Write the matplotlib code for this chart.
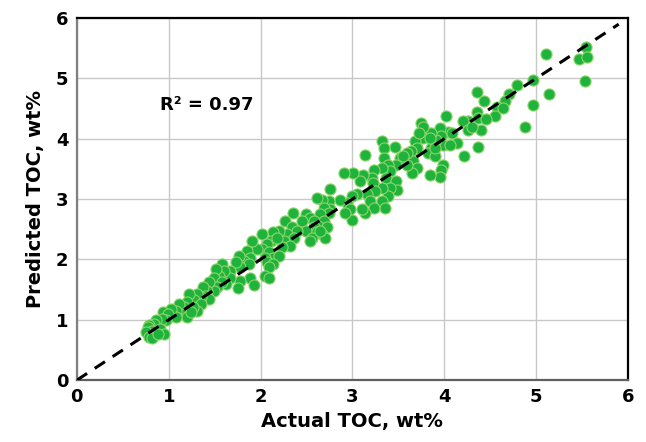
import numpy as np
import matplotlib.pyplot as plt

toc_real = [
    5.54, 5.11, 5.47, 5.55, 5.53, 5.14, 4.97, 4.97, 4.88, 4.79,
    4.71, 4.66, 4.57, 4.64, 4.55, 4.43, 4.36, 4.36, 4.37, 4.40,
    4.45, 4.37, 4.26, 4.20, 4.26, 4.30, 4.21, 4.14, 4.02, 4.04,
    3.95, 3.97, 3.99, 3.91, 3.86, 3.86, 3.82, 3.90, 3.99, 3.96,
    3.95, 3.84, 3.75, 3.77, 3.77, 3.68, 3.70, 3.64, 3.66, 3.70,
    3.65, 3.59, 3.52, 3.48, 3.46, 3.32, 3.34, 3.34, 3.39, 3.41,
    3.32, 3.37, 3.48, 3.49, 3.41, 3.39, 3.32, 3.35, 3.32, 3.24,
    3.21, 3.22, 3.25, 3.16, 3.19, 3.23, 3.14, 3.10, 3.12, 3.14,
    3.08, 3.05, 3.01, 3.00, 2.91, 2.94, 2.97, 3.00, 2.92, 2.87,
    2.76, 2.74, 2.76, 2.67, 2.61, 2.69, 2.74, 2.65, 2.49, 2.54,
    2.45, 2.58, 2.69, 2.63, 2.72, 2.58, 2.49, 2.61, 2.67, 2.56,
    2.70, 2.54, 2.65, 2.35, 2.27, 2.34, 2.40, 2.29, 2.36, 2.25,
    2.32, 2.23, 2.20, 2.14, 2.11, 2.18, 2.02, 2.07, 2.02, 1.96,
    2.09, 2.14, 2.05, 2.20, 2.07, 2.14, 2.09, 2.05, 2.09, 1.91,
    1.85, 1.89, 1.82, 1.87, 1.89, 1.93, 1.78, 1.76, 1.73, 1.78,
    1.75, 1.67, 1.67, 1.62, 1.58, 1.60, 1.55, 1.51, 1.49, 1.58,
    1.53, 1.49, 1.44, 1.42, 1.37, 1.40, 1.44, 1.35, 1.31, 1.28,
    1.35, 1.31, 1.26, 1.22, 1.20, 1.17, 1.15, 1.20, 1.24, 1.11,
    1.08, 1.04, 1.08, 1.02, 0.94, 0.99, 0.97, 0.93, 0.86, 0.84,
    0.79, 0.77, 0.82, 0.75, 0.78, 0.82, 0.90, 0.95, 0.88, 3.73,
    3.84, 3.90, 4.06, 4.08, 3.59, 3.55,
]
toc_previsto = [
    5.52, 5.40, 5.32, 5.35, 4.96, 4.74, 4.98, 4.56, 4.20, 4.89,
    4.75, 4.62, 4.53, 4.51, 4.37, 4.62, 4.77, 4.45, 4.34, 4.15,
    4.33, 3.86, 4.29, 4.30, 4.15, 4.20, 3.71, 3.93, 4.37, 4.12,
    4.18, 4.04, 3.90, 3.98, 4.09, 3.85, 3.76, 3.71, 3.57, 3.49,
    3.36, 3.40, 4.26, 4.20, 4.01, 3.96, 3.85, 3.79, 3.63, 3.52,
    3.43, 3.57, 3.68, 3.57, 3.87, 3.96, 3.85, 3.68, 3.57, 3.46,
    3.52, 3.35, 3.30, 3.15, 3.19, 3.05, 2.97, 2.86, 3.19, 3.49,
    3.35, 3.27, 3.13, 3.08, 2.97, 2.85, 2.77, 2.83, 3.40, 3.73,
    3.30, 3.08, 3.43, 3.05, 3.43, 2.94, 2.83, 2.66, 2.77, 2.99,
    3.16, 2.97, 2.83, 2.99, 3.02, 2.86, 2.77, 2.75, 2.76, 2.69,
    2.64, 2.64, 2.64, 2.55, 2.53, 2.53, 2.47, 2.45, 2.42, 2.36,
    2.36, 2.31, 2.47, 2.77, 2.64, 2.53, 2.47, 2.42, 2.36, 2.31,
    2.23, 2.20, 2.47, 2.45, 2.31, 2.36, 2.42, 2.25, 2.17, 2.17,
    2.12, 2.03, 2.03, 2.06, 1.95, 1.92, 1.87, 1.73, 1.70, 2.31,
    2.14, 2.03, 1.98, 1.92, 1.70, 1.57, 1.87, 2.06, 1.95, 1.65,
    1.53, 1.81, 1.70, 1.59, 1.92, 1.81, 1.73, 1.84, 1.70, 1.62,
    1.54, 1.48, 1.62, 1.48, 1.54, 1.40, 1.35, 1.37, 1.43, 1.32,
    1.26, 1.15, 1.21, 1.43, 1.29, 1.21, 1.10, 1.04, 1.13, 1.26,
    1.15, 1.07, 1.04, 1.18, 1.13, 1.10, 0.99, 1.02, 0.99, 0.93,
    0.91, 0.88, 0.82, 0.80, 0.71, 0.70, 0.85, 0.77, 0.77, 4.09,
    4.01, 3.85, 3.90, 4.09, 3.76, 3.71,
]
r2_texto = "R² = 0.97"
ticks = [0, 1, 2, 3, 4, 5, 6]

fig = plt.figure(figsize=(6.46, 4.42), dpi=100)
ax = fig.add_axes([0.119, 0.140, 0.853, 0.819])

ax.scatter(toc_real, toc_previsto, s=64, color='#1DB33C', edgecolors='#8FD46A',
           linewidths=0.8, zorder=3)
ax.plot([0, 5.9], [0, 5.9], color='black', linestyle=(0, (4, 3)), linewidth=2.2, zorder=4)

ax.set_xlim(0, 6)
ax.set_ylim(0, 6)
ax.set_xticks(ticks)
ax.set_yticks(ticks)
ax.grid(True, color='#C8C8C8', linewidth=1)
ax.set_axisbelow(True)
ax.tick_params(length=0, pad=6, labelsize=13)
for lbl in ax.get_xticklabels() + ax.get_yticklabels():
    lbl.set_fontweight('bold')

ax.spines['top'].set_color('black')
ax.spines['right'].set_color('black')
ax.spines['left'].set_color('#808080')
ax.spines['bottom'].set_color('#606060')
for s in ax.spines.values():
    s.set_linewidth(1.6)

ax.set_xlabel('Actual TOC, wt%', fontsize=14, fontweight='bold', labelpad=4)
ax.set_ylabel('Predicted TOC, wt%', fontsize=14, fontweight='bold', labelpad=8)
ax.text(0.9, 4.56, r2_texto, fontsize=13, fontweight='bold', va='center')

fig.savefig('out.png', dpi=100)
